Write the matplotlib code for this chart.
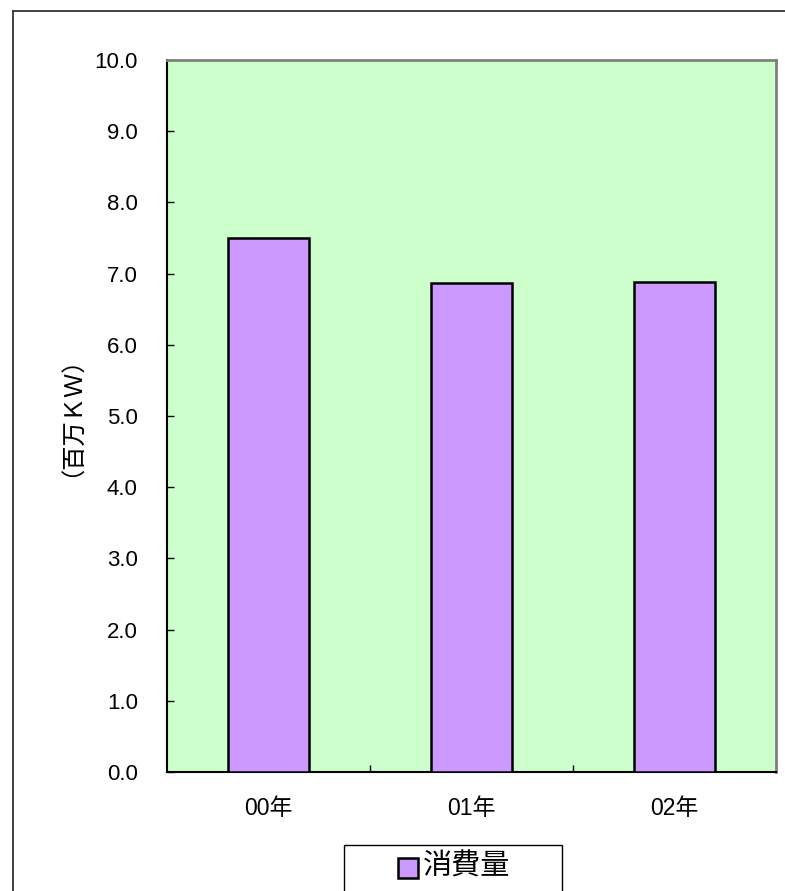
import matplotlib
matplotlib.use("Agg")
import matplotlib.pyplot as plt
from matplotlib.patches import Rectangle
from matplotlib.lines import Line2D

plt.rcParams['font.family'] = ['Liberation Sans', 'Noto Sans CJK JP', 'DejaVu Sans']

# data
years = ["00年", "01年", "02年"]
consumption = [7.5, 6.87, 6.88]
series_name = "消費量"
y_label = "（百万ＫＷ）"
y_ticks = [0.0, 1.0, 2.0, 3.0, 4.0, 5.0, 6.0, 7.0, 8.0, 9.0, 10.0]

W, H = 785, 891
fig = plt.figure(figsize=(W / 100, H / 100), dpi=100)

# plot area in pixels
left, right, top, bottom = 167, 776, 60, 772
ax = fig.add_axes([left / W, 1 - bottom / H, (right - left) / W, (bottom - top) / H])
ax.set_facecolor("#CCFFCC")

xs = list(range(len(years)))
ax.bar(xs, consumption, width=0.4, color="#CC99FF", edgecolor="black", linewidth=1.8,
       label=series_name, zorder=3)

ax.set_xlim(-0.5, len(years) - 0.5)
ax.set_ylim(0, 10)
ax.set_yticks(y_ticks)
ax.set_yticklabels([f"{v:.1f}" for v in y_ticks])
ax.set_xticks(xs)
ax.set_xticklabels(years)
ax.set_xticks([i + 0.5 for i in xs[:-1]], minor=True)

ax.tick_params(axis="y", direction="in", length=5, width=1, pad=21, labelsize=16)
ax.tick_params(axis="x", which="major", length=0, pad=18, labelsize=16.5)
ax.tick_params(axis="x", which="minor", direction="in", length=5, width=1)

for s in ["top", "right"]:
    ax.spines[s].set_color("#808080")
    ax.spines[s].set_linewidth(2)
for s in ["left", "bottom"]:
    ax.spines[s].set_color("black")
    ax.spines[s].set_linewidth(1.5)

fig.text(60 / W, 1 - 404 / H, y_label, rotation=90, ha="center", va="center", fontsize=17.5)

# outer chart border (cropped on right and bottom)
fig.add_artist(Line2D([13 / W, 13 / W], [1 - 11 / H, 0], color="#333333", lw=1.3))
fig.add_artist(Line2D([13 / W, 1], [1 - 11 / H, 1 - 11 / H], color="#333333", lw=1.3))

# legend box
lx0, lx1, ly0 = 344, 562, 845
fig.add_artist(Rectangle((lx0 / W, 1 - 905 / H), (lx1 - lx0) / W, (905 - ly0) / H,
                         transform=fig.transFigure, facecolor="white", edgecolor="black", lw=1))
fig.add_artist(Rectangle((398 / W, 1 - 878 / H), 20 / W, 20 / H, transform=fig.transFigure,
                         facecolor="#CC99FF", edgecolor="black", lw=1.8))
fig.text(423 / W, 1 - 867 / H, series_name, ha="left", va="center", fontsize=21)

fig.savefig("out.png", dpi=100)
